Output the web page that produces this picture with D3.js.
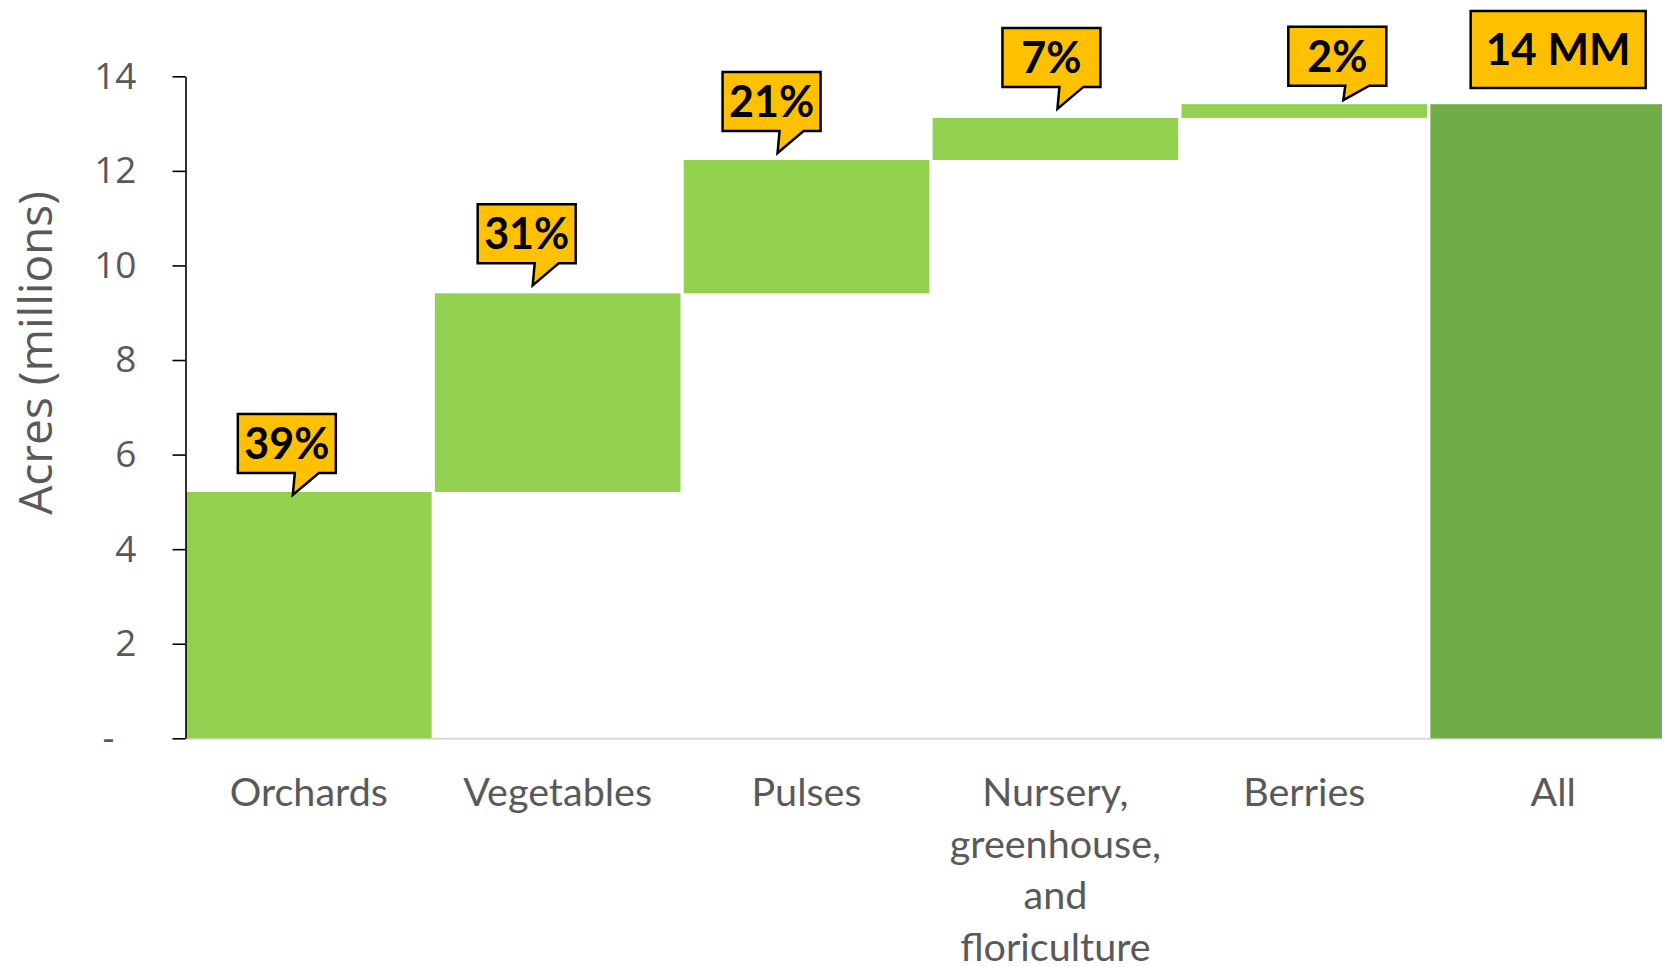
<!DOCTYPE html>
<html>
<head>
<meta charset="utf-8">
<script src="https://cdn.jsdelivr.net/npm/d3@7"></script>
<style>
  html, body { margin: 0; padding: 0; background: #fff; overflow: hidden; }
  svg { display: block; }
</style>
</head>
<body>
<svg id="chart" width="1662" height="967"></svg>
<script>
// Specialty crop acreage, millions of acres, built up as a waterfall
const categories = ["Orchards", "Vegetables", "Pulses", "Nursery, greenhouse, and floriculture", "Berries", "All"];
const increments = [5.21, 4.20, 2.82, 0.89, 0.29];
const totalLabel = "14 MM";
const yTicks = [0, 2, 4, 6, 8, 10, 12, 14];
const yTickLabels = ["-", "2", "4", "6", "8", "10", "12", "14"];
const yTitle = "Acres (millions)";

// callout placement: shift of the box centre from the bar centre, and gap between pointer tip and bar top
const calloutShift = [-22, -31, -35, -4, 33];
const calloutGap = [-3, 8, 7, 9, 4];

const W = 1662, H = 967;
const plotLeft = 186, plotRight = 1676, plotTop = 76.3, plotBottom = 738.3;
const stepColor = "#92D050", totalColor = "#70AD47";
const calloutFill = "#FFC000";
const textGray = "#595959";

const svg = d3.select("#chart");

const x = d3.scaleBand()
  .domain(categories)
  .range([plotLeft, plotRight])
  .paddingInner(0.013)
  .paddingOuter(0);

const y = d3.scaleLinear()
  .domain([0, 14])
  .range([plotBottom, plotTop]);

// cumulative steps
let running = 0;
const steps = increments.map((v, i) => {
  const s = { cat: categories[i], y0: running, y1: running + v, value: v, total: false };
  running += v;
  return s;
});
const grandTotal = running;
steps.push({ cat: categories[5], y0: 0, y1: grandTotal, value: grandTotal, total: true });

// zero baseline
svg.append("line")
  .attr("x1", plotLeft).attr("x2", W)
  .attr("y1", y(0) + 0.5).attr("y2", y(0) + 0.5)
  .attr("stroke", "#D9D9D9")
  .attr("stroke-width", 2);

// bars
svg.append("g").selectAll("rect")
  .data(steps)
  .join("rect")
  .attr("x", d => x(d.cat))
  .attr("width", x.bandwidth())
  .attr("y", d => y(d.y1))
  .attr("height", d => y(d.y0) - y(d.y1))
  .attr("fill", d => d.total ? totalColor : stepColor);

// y axis
const yAxis = svg.append("g")
  .attr("transform", `translate(${plotLeft - 0.5},0)`)
  .call(d3.axisLeft(y)
    .tickValues(yTicks)
    .tickFormat((d, i) => yTickLabels[i])
    .tickSize(13)
    .tickSizeOuter(0)
    .tickPadding(36));
yAxis.select(".domain").attr("stroke", "#000").attr("stroke-width", 1.6);
yAxis.selectAll(".tick line").attr("stroke", "#000").attr("stroke-width", 1.6);
yAxis.selectAll(".tick text")
  .attr("fill", textGray)
  .style("font-family", "'Open Sans', sans-serif")
  .style("font-size", "37px");
yAxis.selectAll(".tick text").filter(d => d === 0).attr("dx", -22);

// y axis title
svg.append("text")
  .attr("transform", "translate(34,353) rotate(-90)")
  .attr("text-anchor", "middle")
  .attr("dominant-baseline", "central")
  .attr("fill", textGray)
  .style("font-family", "'Open Sans', sans-serif")
  .style("font-size", "46px")
  .text(yTitle);

// category labels, wrapped to the band width
const catLabels = svg.append("g").selectAll("text")
  .data(categories)
  .join("text")
  .attr("x", d => x(d) + x.bandwidth() / 2)
  .attr("y", 806)
  .attr("text-anchor", "middle")
  .attr("fill", textGray)
  .style("font-family", "Lato, sans-serif")
  .style("font-size", "39.5px");

catLabels.each(function (d) {
  const t = d3.select(this);
  const words = d.split(" ");
  const cx = +t.attr("x");
  const maxW = x.bandwidth() - 10;
  let line = [];
  let tspan = t.append("tspan").attr("x", cx).attr("dy", 0);
  words.forEach(w => {
    line.push(w);
    tspan.text(line.join(" "));
    if (tspan.node().getComputedTextLength() > maxW && line.length > 1) {
      line.pop();
      tspan.text(line.join(" "));
      line = [w];
      tspan = t.append("tspan").attr("x", cx).attr("dy", 51.5).text(w);
    }
  });
});

// percentage callouts
const boxW = 98, boxH = 59, ptrH = 22, minTop = 26.7;
const callouts = steps.filter(d => !d.total).map((d, i) => {
  const cx = x(d.cat) + x.bandwidth() / 2 + calloutShift[i];
  const tipY = y(d.y1) - calloutGap[i];
  let bottom = tipY - ptrH;
  let top = bottom - boxH;
  if (top < minTop) { top = minTop; bottom = top + boxH; }
  const left = cx - boxW / 2;
  return {
    cx, left, top, bottom, tipY,
    tipX: left + 55,
    label: Math.round(d.value / grandTotal * 100) + "%"
  };
});

const cg = svg.append("g");
cg.selectAll("path")
  .data(callouts)
  .join("path")
  .attr("d", c => {
    const r = c.left + boxW;
    return `M${c.left},${c.top} H${r} V${c.bottom} H${c.left + 81} L${c.tipX},${c.tipY} L${c.left + 57},${c.bottom} H${c.left} Z`;
  })
  .attr("fill", calloutFill)
  .attr("stroke", "#000")
  .attr("stroke-width", 2.5)
  .attr("stroke-linejoin", "miter");

cg.selectAll("text")
  .data(callouts)
  .join("text")
  .attr("x", c => c.cx)
  .attr("y", c => (c.top + c.bottom) / 2)
  .attr("dy", "0.36em")
  .attr("text-anchor", "middle")
  .attr("fill", "#000")
  .style("font-family", "Lato, sans-serif")
  .style("font-weight", 700)
  .style("font-size", "43px")
  .text(c => c.label);

// total callout
const totalStep = steps[steps.length - 1];
const tW = 175, tH = 77;
const tcx = x(totalStep.cat) + x.bandwidth() / 2 + 5;
svg.append("rect")
  .attr("x", tcx - tW / 2)
  .attr("y", 11)
  .attr("width", tW)
  .attr("height", tH)
  .attr("fill", calloutFill)
  .attr("stroke", "#000")
  .attr("stroke-width", 2.5);
svg.append("text")
  .attr("x", tcx)
  .attr("y", 11 + tH / 2)
  .attr("dy", "0.36em")
  .attr("text-anchor", "middle")
  .attr("fill", "#000")
  .style("font-family", "Lato, sans-serif")
  .style("font-weight", 700)
  .style("font-size", "44px")
  .text(totalLabel);
</script>
</body>
</html>
